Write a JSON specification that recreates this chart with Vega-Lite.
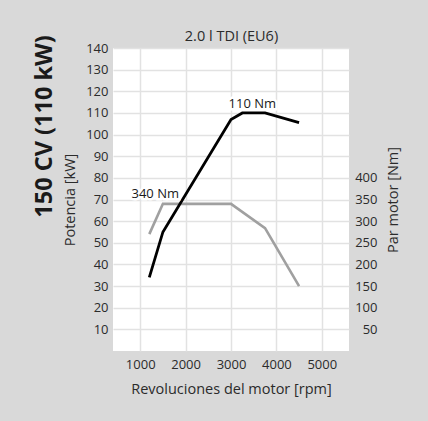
{
  "$schema": "https://vega.github.io/schema/vega-lite/v6.json",
  "width": 236,
  "height": 303,
  "autosize": {"type": "none"},
  "padding": {"left": 113, "top": 48, "right": 79, "bottom": 70},
  "background": "#d9d9d9",
  "title": {
    "text": "150 CV (110 kW)",
    "orient": "left",
    "anchor": "middle",
    "frame": "group",
    "font": "Open Sans",
    "fontSize": 23.5,
    "fontWeight": "bold",
    "color": "#1a1a1a",
    "offset": 6,
    "dx": 73
  },
  "datasets": {
    "power": [
      {"rpm": 1200, "kw": 34},
      {"rpm": 1500, "kw": 55},
      {"rpm": 3000, "kw": 107},
      {"rpm": 3250, "kw": 110},
      {"rpm": 3750, "kw": 110},
      {"rpm": 4500, "kw": 105.5}
    ],
    "torque": [
      {"rpm": 1200, "nm": 270},
      {"rpm": 1500, "nm": 340},
      {"rpm": 3000, "nm": 340},
      {"rpm": 3750, "nm": 284},
      {"rpm": 4500, "nm": 150}
    ],
    "labels": [
      {"rpm": 1330, "kw": 72.5, "label": "340 Nm"},
      {"rpm": 3470, "kw": 114, "label": "110 Nm"}
    ]
  },
  "layer": [
    {
      "data": {"name": "torque"},
      "mark": {"type": "line", "color": "#a0a0a0", "strokeWidth": 2.6},
      "encoding": {
        "x": {
          "field": "rpm", "type": "quantitative",
          "scale": {"domain": [400, 5600], "nice": false, "zero": false},
          "axis": {"orient": "top", "labels": false, "grid": false, "title": "2.0 l TDI (EU6)", "titlePadding": 5}
        },
        "y": {
          "field": "nm", "type": "quantitative",
          "scale": {"domain": [0, 700], "nice": false},
          "axis": {
            "orient": "right", "values": [50, 100, 150, 200, 250, 300, 350, 400],
            "grid": false, "labelAlign": "right", "labelPadding": 28,
            "title": "Par motor [Nm]", "titlePadding": 9, "titleAngle": 270, "titleBaseline": "top"
          }
        }
      }
    },
    {
      "layer": [
        {
          "data": {"name": "power"},
          "mark": {"type": "line", "color": "#000000", "strokeWidth": 2.8}
        },
        {
          "data": {"name": "labels"},
          "mark": {"type": "text", "align": "center", "baseline": "middle", "fontSize": 13, "stroke": "white", "strokeWidth": 5, "color": "white"},
          "encoding": {"text": {"field": "label"}}
        },
        {
          "data": {"name": "labels"},
          "mark": {"type": "text", "align": "center", "baseline": "middle", "fontSize": 13, "color": "#1a1a1a"},
          "encoding": {"text": {"field": "label"}}
        }
      ],
      "encoding": {
        "x": {
          "field": "rpm", "type": "quantitative",
          "scale": {"domain": [400, 5600], "nice": false, "zero": false},
          "axis": {"orient": "bottom", "values": [1000, 2000, 3000, 4000, 5000], "format": "d", "grid": true, "labelPadding": 7, "title": "Revoluciones del motor [rpm]", "titlePadding": 11}
        },
        "y": {
          "field": "kw", "type": "quantitative",
          "scale": {"domain": [0, 140], "nice": false},
          "axis": {
            "orient": "left", "values": [10, 20, 30, 40, 50, 60, 70, 80, 90, 100, 110, 120, 130, 140],
            "grid": true, "labelPadding": 5, "title": "Potencia [kW]", "titlePadding": 8
          }
        }
      }
    }
  ],
  "resolve": {"scale": {"y": "independent"}, "axis": {"x": "independent"}},
  "config": {
    "view": {"fill": "white", "stroke": null},
    "font": "Open Sans",
    "text": {"font": "Open Sans"},
    "axis": {
      "labelFont": "Open Sans", "labelFontSize": 13, "labelColor": "#2b2b2b",
      "titleFont": "Open Sans", "titleFontSize": 14.5, "titleFontWeight": "normal", "titleColor": "#2b2b2b",
      "domain": false, "ticks": false, "tickSize": 0,
      "gridColor": "#e2e2e2", "gridWidth": 1.5
    }
  }
}
